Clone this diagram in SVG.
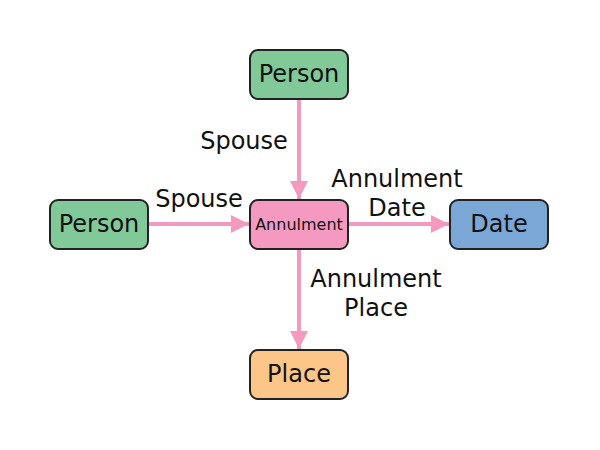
<svg xmlns="http://www.w3.org/2000/svg" width="600" height="450" viewBox="0 0 600 450">
<defs>
<style>
.node rect{stroke:#222;stroke-width:2}
.node text{font-family:"DejaVu Sans",Verdana,sans-serif;font-size:24px;fill:#111;text-anchor:middle;dominant-baseline:central}
.edge{stroke:#f49ac1;stroke-width:4;fill:none}
.lbl{font-family:"DejaVu Sans",Verdana,sans-serif;font-size:24px;fill:#111;text-anchor:middle}
</style>
<marker id="ah" viewBox="0 0 10 10" refX="10" refY="5" markerWidth="5" markerHeight="4.5" markerUnits="strokeWidth" orient="auto">
<path d="M0,0 L10,5 L0,10 z" fill="#f49ac1"/>
</marker>
</defs>
<rect width="600" height="450" fill="#fff"/>
<g id="connectors">
<line class="edge" x1="299" y1="99" x2="299" y2="199" marker-end="url(#ah)"/>
<line class="edge" x1="149" y1="224" x2="249" y2="224" marker-end="url(#ah)"/>
<line class="edge" x1="349" y1="224" x2="449" y2="224" marker-end="url(#ah)"/>
<line class="edge" x1="299" y1="250" x2="299" y2="349" marker-end="url(#ah)"/>
<text class="lbl" x="244" y="149">Spouse</text>
<text class="lbl" x="199" y="207">Spouse</text>
<text class="lbl" x="397" y="187">Annulment</text>
<text class="lbl" x="397" y="216">Date</text>
<text class="lbl" x="376" y="287">Annulment</text>
<text class="lbl" x="376" y="316">Place</text>
</g>
<g id="person-top" class="node"><rect x="250" y="50" width="98" height="49" rx="8" fill="#82c99a"/><text x="299" y="74">Person</text></g>
<g id="person-left" class="node"><rect x="50" y="200" width="98" height="49" rx="8" fill="#82c99a"/><text x="99" y="224">Person</text></g>
<g id="annulment" class="node"><rect x="250" y="200" width="98" height="49" rx="8" fill="#f49ac1"/><text x="299" y="224" style="font-size:16px">Annulment</text></g>
<g id="date" class="node"><rect x="450" y="200" width="98" height="49" rx="8" fill="#7ba7d7"/><text x="499" y="224">Date</text></g>
<g id="place" class="node"><rect x="250" y="350" width="98" height="49" rx="8" fill="#fdc689"/><text x="299" y="374">Place</text></g>
</svg>
